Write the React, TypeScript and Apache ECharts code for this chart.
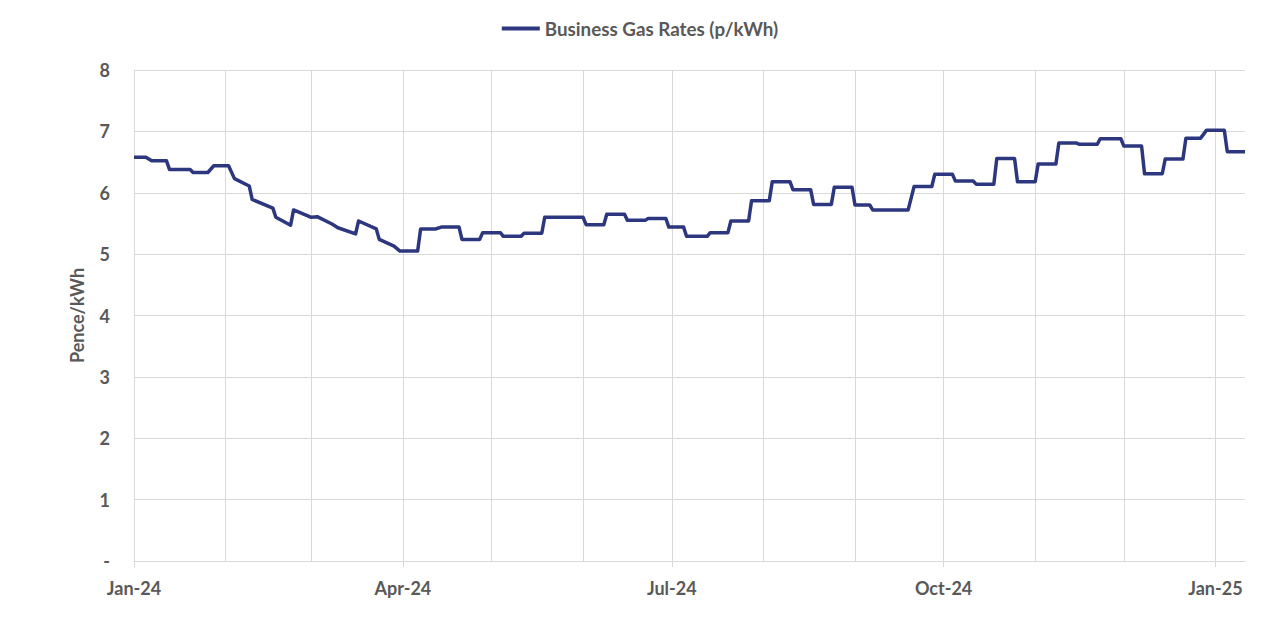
import React, { useEffect, useRef } from "react";
import * as echarts from "echarts";

// Vertices of the weekly-stepped price line (date, pence/kWh)
const dates = [
  "2024-01-01", "2024-01-05", "2024-01-07", "2024-01-12", "2024-01-13", "2024-01-20", "2024-01-21", "2024-01-26",
  "2024-01-28", "2024-02-02", "2024-02-04", "2024-02-09", "2024-02-10", "2024-02-17", "2024-02-18", "2024-02-23",
  "2024-02-24", "2024-03-01", "2024-03-03", "2024-03-08", "2024-03-10", "2024-03-16", "2024-03-17", "2024-03-23",
  "2024-03-24", "2024-03-29", "2024-03-31", "2024-04-06", "2024-04-07", "2024-04-12", "2024-04-14", "2024-04-20",
  "2024-04-21", "2024-04-27", "2024-04-28", "2024-05-04", "2024-05-05", "2024-05-11", "2024-05-12", "2024-05-18",
  "2024-05-19", "2024-06-01", "2024-06-02", "2024-06-08", "2024-06-09", "2024-06-15", "2024-06-16", "2024-06-22",
  "2024-06-23", "2024-06-29", "2024-06-30", "2024-07-05", "2024-07-06", "2024-07-13", "2024-07-14", "2024-07-20",
  "2024-07-21", "2024-07-27", "2024-07-28", "2024-08-03", "2024-08-04", "2024-08-10", "2024-08-11", "2024-08-17",
  "2024-08-18", "2024-08-24", "2024-08-25", "2024-08-31", "2024-09-01", "2024-09-06", "2024-09-07", "2024-09-19",
  "2024-09-21", "2024-09-27", "2024-09-28", "2024-10-04", "2024-10-05", "2024-10-11", "2024-10-12", "2024-10-18",
  "2024-10-19", "2024-10-25", "2024-10-26", "2024-11-01", "2024-11-02", "2024-11-08", "2024-11-09", "2024-11-15",
  "2024-11-16", "2024-11-22", "2024-11-23", "2024-11-30", "2024-12-01", "2024-12-07", "2024-12-08", "2024-12-14",
  "2024-12-15", "2024-12-21", "2024-12-22", "2024-12-27", "2024-12-29", "2025-01-04", "2025-01-05", "2025-01-11",
];

const gasRates = [
  6.58, 6.58, 6.52, 6.52, 6.38, 6.38, 6.33, 6.33,
  6.44, 6.44, 6.23, 6.11, 5.89, 5.75, 5.6, 5.47,
  5.72, 5.6, 5.61, 5.49, 5.43, 5.33, 5.54, 5.41,
  5.24, 5.13, 5.05, 5.05, 5.41, 5.41, 5.44, 5.44,
  5.24, 5.24, 5.35, 5.35, 5.29, 5.29, 5.34, 5.34,
  5.6, 5.6, 5.48, 5.48, 5.65, 5.65, 5.55, 5.55,
  5.58, 5.58, 5.44, 5.44, 5.29, 5.29, 5.35, 5.35,
  5.54, 5.54, 5.87, 5.87, 6.18, 6.18, 6.05, 6.05,
  5.81, 5.81, 6.09, 6.09, 5.8, 5.8, 5.72, 5.72,
  6.1, 6.1, 6.3, 6.3, 6.19, 6.19, 6.14, 6.14,
  6.56, 6.56, 6.18, 6.18, 6.47, 6.47, 6.81, 6.81,
  6.79, 6.79, 6.88, 6.88, 6.76, 6.76, 6.31, 6.31,
  6.55, 6.55, 6.89, 6.89, 7.02, 7.02, 6.67, 6.67,
];

const monthStarts = [
  "2024-01-01", "2024-02-01", "2024-03-01", "2024-04-01", "2024-05-01", "2024-06-01",
  "2024-07-01", "2024-08-01", "2024-09-01", "2024-10-01", "2024-11-01", "2024-12-01", "2025-01-01",
];

const tickDates = ["2024-01-01", "2024-04-01", "2024-07-01", "2024-10-01", "2025-01-01"];
const tickLabels = ["Jan-24", "Apr-24", "Jul-24", "Oct-24", "Jan-25"];

const axisStart = "2024-01-01";
const axisEnd = "2025-01-11";

const seriesName = "Business Gas Rates (p/kWh)";

function ts(s: string): number {
  const [y, m, d] = s.split("-").map(Number);
  return Date.UTC(y, m - 1, d);
}

const FONT = "Lato, 'Open Sans', sans-serif";
const TEXT = "#595959";
const GRID = "#d9d9d9";

export default function App() {
  const ref = useRef<HTMLDivElement>(null);

  useEffect(() => {
    if (!ref.current) return;
    const chart = echarts.init(ref.current, null, { renderer: "svg" });
    const tickTs = tickDates.map(ts);
    chart.setOption({
      animation: false,
      textStyle: { fontFamily: FONT },
      legend: {
        data: [seriesName],
        top: 14,
        left: "center",
        icon: "rect",
        itemWidth: 38,
        itemHeight: 4,
        itemGap: 10,
        textStyle: { fontFamily: FONT, fontSize: 18.8, fontWeight: "bold", color: TEXT },
      },
      grid: { left: 134, right: 35, top: 70, bottom: 75 },
      xAxis: {
        type: "value",
        min: ts(axisStart),
        max: ts(axisEnd),
        axisLine: { show: true, lineStyle: { color: GRID, width: 1 } },
        axisTick: { show: true, customValues: tickTs, length: 6, lineStyle: { color: GRID } },
        splitLine: { show: false },
        axisLabel: {
          customValues: tickTs,
          margin: 18,
          fontFamily: FONT,
          fontSize: 18,
          fontWeight: "bold",
          color: TEXT,
          formatter: (v: number) => {
            const i = tickTs.indexOf(v);
            return i >= 0 ? tickLabels[i] : "";
          },
        },
      },
      yAxis: {
        type: "value",
        min: 0,
        max: 8,
        interval: 1,
        name: "Pence/kWh",
        nameLocation: "middle",
        nameRotate: 90,
        nameGap: 48,
        nameTextStyle: { fontFamily: FONT, fontSize: 18, fontWeight: "bold", color: TEXT },
        axisLine: { show: false },
        axisTick: { show: false },
        splitLine: { show: true, lineStyle: { color: GRID, width: 1 } },
        axisLabel: {
          margin: 24,
          fontFamily: FONT,
          fontSize: 18,
          fontWeight: "bold",
          color: TEXT,
          formatter: (v: number) => (v === 0 ? "-" : String(v)),
        },
      },
      series: [
        {
          type: "line",
          z: 1,
          data: [],
          silent: true,
          markLine: {
            z: 1,
            silent: true,
            symbol: "none",
            label: { show: false },
            lineStyle: { color: GRID, type: "solid", width: 1 },
            data: monthStarts.map((d) => ({ xAxis: ts(d) })),
          },
        },
        {
          name: seriesName,
          type: "line",
          z: 3,
          symbol: "none",
          showSymbol: false,
          lineStyle: { color: "#2D377F", width: 3.5, join: "round" },
          itemStyle: { color: "#2D377F" },
          data: dates.map((d, i) => [ts(d), gasRates[i]]),
        },
      ],
    });
    return () => chart.dispose();
  }, []);

  return (
    <div
      ref={ref}
      style={{ position: "fixed", left: 0, top: 0, width: 1280, height: 636, background: "#fff" }}
    />
  );
}
